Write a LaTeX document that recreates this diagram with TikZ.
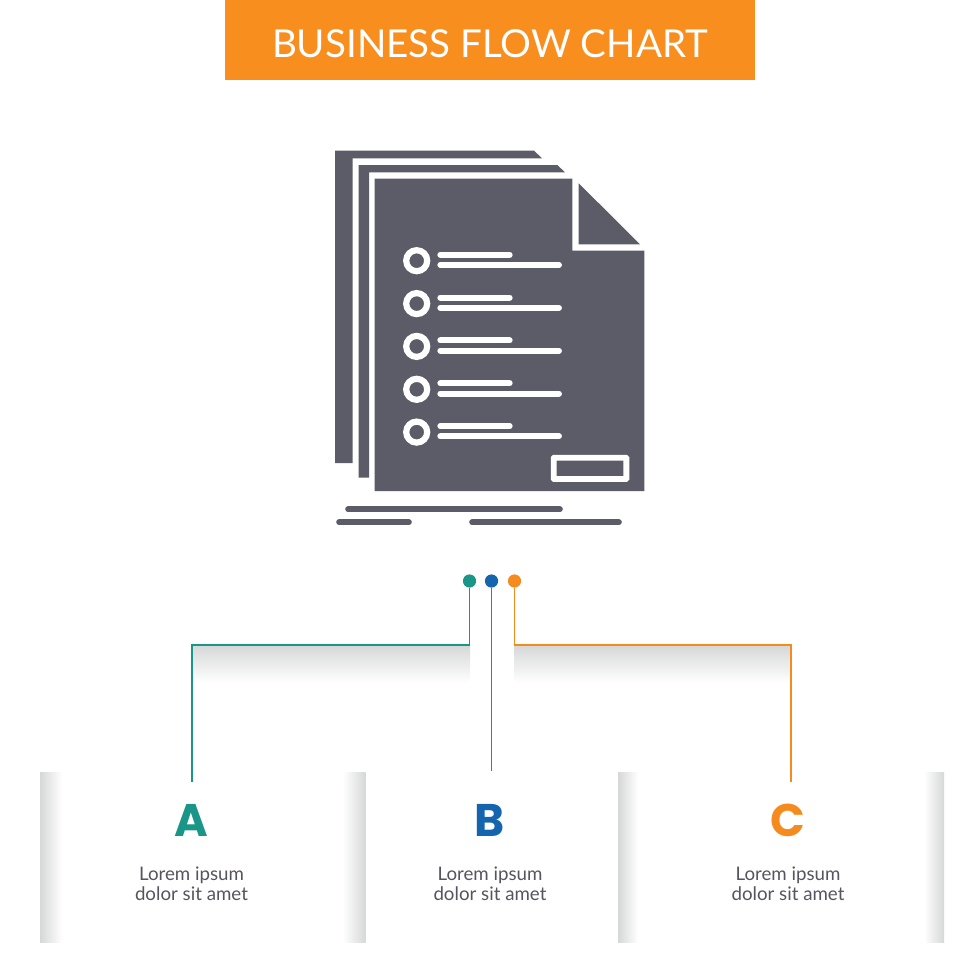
\documentclass[tikz,border=0pt]{standalone}
\usepackage{fontspec}
\setmainfont{Lato}
\newfontfamily\heavyfont{Poppins}
\usetikzlibrary{positioning}
\definecolor{brandorange}{HTML}{F78E1E}
\definecolor{tealA}{HTML}{1A9688}
\definecolor{blueB}{HTML}{1565AE}
\definecolor{orangeC}{HTML}{F58A1F}
\definecolor{linkblue}{HTML}{3A7CA5}
\definecolor{icongray}{HTML}{5C5B68}
\definecolor{textgray}{HTML}{55555F}
\definecolor{shadegray}{HTML}{D6D7D7}
\tikzstyle{banner} = [rectangle, fill=brandorange, text=white, minimum width=13.25cm, minimum height=2cm, text height=25pt, text depth=0pt, font=\fontsize{27.4}{30}\selectfont]
\tikzstyle{dot} = [circle, inner sep=0pt, minimum size=0.33cm]
\tikzstyle{letter} = [font=\heavyfont\bfseries\fontsize{32.5}{40}\selectfont]
\tikzstyle{caption} = [align=center, text=textgray, font=\fontsize{13.3}{14.2}\selectfont]
\tikzstyle{link} = [line width=1.1pt]
\tikzstyle{bar} = [white, line width=4.2pt, line cap=round]
\tikzstyle{ring} = [white, line width=4.4pt]
\tikzstyle{rule} = [icongray, line width=4pt, line cap=round]
\begin{document}
\begin{tikzpicture}[x=0.025cm, y=-0.025cm]
			\useasboundingbox (0,0) rectangle (980,980);
			\fill [white] (0,0) rectangle (980,980);
			
			% Title
			\node (title) [banner] at (490,40) {BUSINESS FLOW CHART};
			
			% Pages behind
			\fill [icongray] (335,150.7) -- (534,150.7) -- (542,158.3) -- (352.5,158.3) -- (352.5,463) -- (335,463) -- cycle;
			\fill [icongray] (358.5,165) -- (557.3,165) -- (565,172.3) -- (369,172.3) -- (369,477.7) -- (358.5,477.7) -- cycle;
			
			% Front page
			\fill [icongray] (374.7,178.7) -- (572.3,178.7) -- (572.3,250.7) -- (644.3,250.7) -- (644.3,491) -- (374.7,491) -- cycle;
			\fill [icongray] (578.7,183.3) -- (640,244.3) -- (578.7,244.3) -- cycle;
			
			% Row 1
			\draw [ring] (416.7,260.7) circle (10.5);
			\draw [bar] (440.3,254.7) -- (509.7,254.7);
			\draw [bar] (440.3,265) -- (559,265);
			
			% Row 2
			\draw [ring] (416.7,303.6) circle (10.5);
			\draw [bar] (440.3,297.6) -- (509.7,297.6);
			\draw [bar] (440.3,307.9) -- (559,307.9);
			
			% Row 3
			\draw [ring] (416.7,346.4) circle (10.5);
			\draw [bar] (440.3,340.4) -- (509.7,340.4);
			\draw [bar] (440.3,350.7) -- (559,350.7);
			
			% Row 4
			\draw [ring] (416.7,389.3) circle (10.5);
			\draw [bar] (440.3,383.3) -- (509.7,383.3);
			\draw [bar] (440.3,393.6) -- (559,393.6);
			
			% Row 5
			\draw [ring] (416.7,432.1) circle (10.5);
			\draw [bar] (440.3,426.1) -- (509.7,426.1);
			\draw [bar] (440.3,436.4) -- (559,436.4);
			
			% Button and the rules below
			\draw [white, line width=4.2pt, rounded corners=0.5pt] (553.7,457.7) rectangle (626.3,479);
			\draw [rule] (348,509.3) -- (560,509.3);
			\draw [rule] (339,522.3) -- (409,522.3);
			\draw [rule] (472,522.3) -- (619,522.3);
			
			% Shadows
			\shade [top color=shadegray, bottom color=white] (192,645) rectangle (470,683);
			\shade [top color=shadegray, bottom color=white] (514,645) rectangle (791,683);
			\shade [left color=shadegray, right color=white] (40,772) rectangle (62,942);
			\shade [left color=white, right color=shadegray] (343,772) rectangle (365.5,942);
			\shade [left color=shadegray, right color=white] (618,772) rectangle (638,942);
			\shade [left color=white, right color=shadegray] (924,772) rectangle (944,942);
			
			% Dots
			\node (dotA) [dot, fill=tealA] at (469.5,581) {};
			\node (dotB) [dot, fill=blueB] at (491.5,581) {};
			\node (dotC) [dot, fill=orangeC] at (514.5,581) {};
			
			% Letters
			\node (letterA) [letter, text=tealA] at (191.5,820) {A};
			\node (letterB) [letter, text=blueB] at (490,820) {B};
			\node (letterC) [letter, text=orangeC] at (788,820) {C};
			
			% Captions
			\node (captionA) [caption] at (191.5,884) {Lorem ipsum\\dolor sit amet};
			\node (captionB) [caption] at (490,884) {Lorem ipsum\\dolor sit amet};
			\node (captionC) [caption] at (788,884) {Lorem ipsum\\dolor sit amet};
			
			% Connector ends
			\coordinate (kneeA) at (469.5,645);
			\coordinate (elbowA) at (192,645);
			\coordinate (endA) at (192,782);
			\coordinate (endB) at (491.5,771);
			\coordinate (kneeC) at (514.5,645);
			\coordinate (elbowC) at (791,645);
			\coordinate (endC) at (791,782);
			
			% Connectors
			\draw [link, draw=tealA] (dotA) -- (kneeA) -- (elbowA) -- (endA);
			\draw [link, draw=linkblue] (dotB) -- (endB);
			\draw [link, draw=orangeC] (dotC) -- (kneeC) -- (elbowC) -- (endC);
			
		\end{tikzpicture}
\end{document}
